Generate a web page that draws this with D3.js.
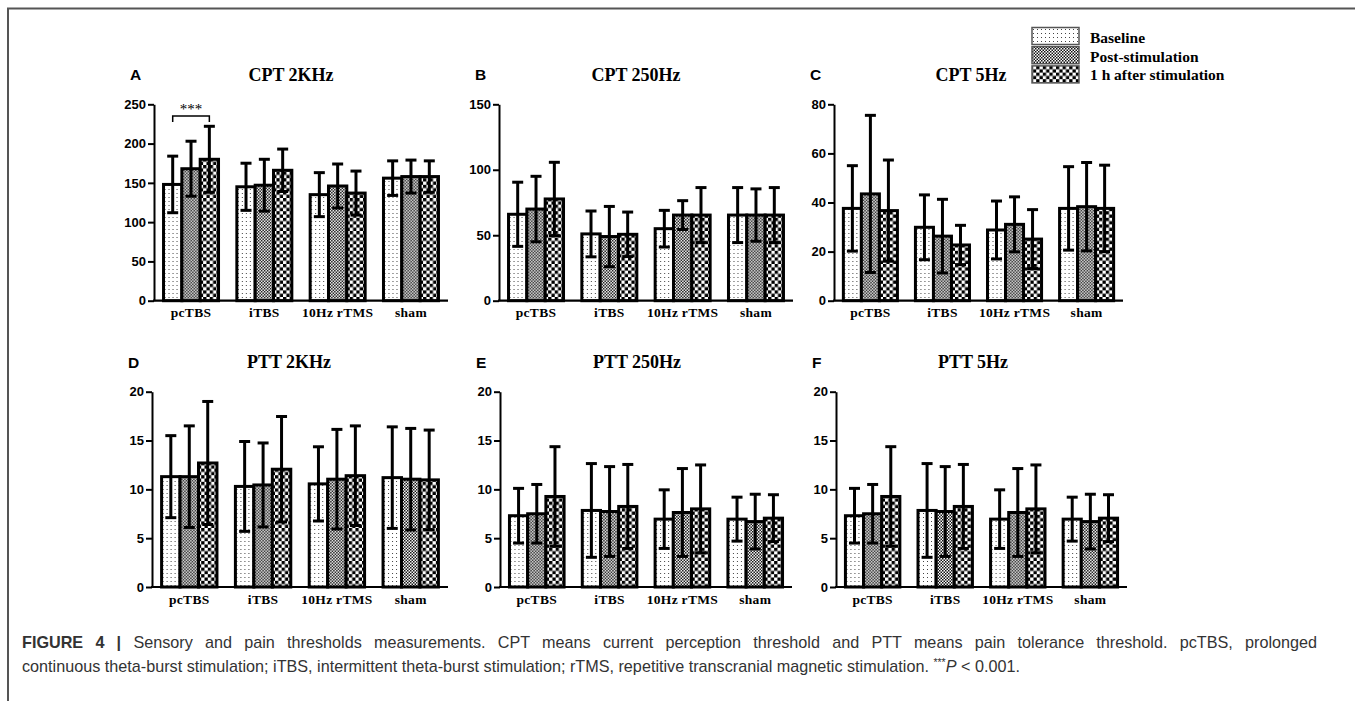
<!DOCTYPE html>
<html>
<head>
<meta charset="utf-8">
<title>Figure 4 - sensory and pain thresholds</title>
<script src="https://cdn.jsdelivr.net/npm/d3@7"></script>
<style>
    html, body { margin: 0; padding: 0; background: #fff; }
    svg { display: block; }
    .tick text { font-family: "Liberation Sans", Arial, sans-serif; font-weight: bold; font-size: 13px; fill: #000; }
    .xlab text { font-family: "Liberation Serif", "Times New Roman", serif; font-weight: bold; font-size: 13.5px; letter-spacing: 0.3px; }
</style>
</head>
<body>
<div id="chart"></div>
<script>
// ---- data ----
var groups = ["pcTBS", "iTBS", "10Hz rTMS", "sham"];
var series = ["Baseline", "Post-stimulation", "1 h after stimulation"];

// one row per group: [Baseline, Post, 1 h]
var cpt2kMean = [[148, 168, 180], [145, 147, 166], [135, 146, 137], [156, 158, 158]];
var cpt2kSD   = [[36, 35, 42], [30, 33, 27], [28, 28, 28], [22, 21, 20]];

var cpt250Mean = [[66, 70, 77.7], [51, 49, 50.7], [55, 65.4, 65.4], [65.4, 65.4, 65.4]];
var cpt250SD   = [[24.5, 25, 28], [17.5, 23, 17], [14, 11, 21], [21, 20, 21]];

var cpt5Mean = [[37.6, 43.5, 36.7], [29.9, 26.3, 22.7], [28.8, 31.1, 25.1], [37.6, 38.3, 37.6]];
var cpt5SD   = [[17.4, 32, 20.6], [13.2, 15, 8], [11.8, 11.2, 12], [17, 18, 17.6]];

var ptt2kMean = [[11.3, 11.3, 12.7], [10.3, 10.45, 12.06], [10.56, 11.04, 11.4], [11.2, 11.04, 10.97]];
var ptt2kSD   = [[4.2, 5.2, 6.3], [4.6, 4.3, 5.4], [3.8, 5.1, 5.1], [5.2, 5.2, 5.1]];

var ptt250Mean = [[7.3, 7.5, 9.27], [7.84, 7.73, 8.25], [6.95, 7.63, 8.0], [6.95, 6.7, 7.05]];
var ptt250SD   = [[2.8, 3.0, 5.1], [4.8, 4.6, 4.3], [3.0, 4.5, 4.5], [2.25, 2.8, 2.4]];

var ptt5Mean = [[7.3, 7.5, 9.27], [7.84, 7.73, 8.25], [6.95, 7.63, 8.0], [6.95, 6.7, 7.05]];
var ptt5SD   = [[2.8, 3.0, 5.1], [4.8, 4.6, 4.3], [3.0, 4.5, 4.5], [2.25, 2.8, 2.4]];

var ticksA = [0, 50, 100, 150, 200, 250];
var ticksB = [0, 50, 100, 150];
var ticksC = [0, 20, 40, 60, 80];
var ticksPTT = [0, 5, 10, 15, 20];

var sigLabel = "***";
var sigLevel = 235;

// ----------
var width = 1355, height = 701;

var svg = d3.select("#chart").append("svg")
    .attr("width", width)
    .attr("height", height);

// fill patterns for the three time points
var defs = svg.append("defs");

var pDot = defs.append("pattern").attr("id", "pat0")
    .attr("patternUnits", "userSpaceOnUse").attr("width", 4).attr("height", 4);
pDot.append("rect").attr("width", 4).attr("height", 4).attr("fill", "#fff");
pDot.append("rect").attr("x", 1).attr("y", 1).attr("width", 1).attr("height", 1).attr("fill", "#444");

var pFine = defs.append("pattern").attr("id", "pat1")
    .attr("patternUnits", "userSpaceOnUse").attr("width", 3).attr("height", 3);
pFine.append("rect").attr("width", 3).attr("height", 3).attr("fill", "#fff");
pFine.append("rect").attr("width", 1.5).attr("height", 1.5).attr("fill", "#111");
pFine.append("rect").attr("x", 1.5).attr("y", 1.5).attr("width", 1.5).attr("height", 1.5).attr("fill", "#111");

var pChk = defs.append("pattern").attr("id", "pat2")
    .attr("patternUnits", "userSpaceOnUse").attr("width", 6.6).attr("height", 6.6);
pChk.append("rect").attr("width", 6.6).attr("height", 6.6).attr("fill", "#fff");
pChk.append("rect").attr("width", 3.3).attr("height", 3.3).attr("fill", "#000");
pChk.append("rect").attr("x", 3.3).attr("y", 3.3).attr("width", 3.3).attr("height", 3.3).attr("fill", "#000");

var fills = ["url(#pat0)", "url(#pat1)", "url(#pat2)"];

// frame of the figure
svg.append("path")
    .attr("d", "M8,701 L8,8.5 L1355,8.5")
    .attr("fill", "none")
    .attr("stroke", "#555")
    .attr("stroke-width", 2);

var panels = [
    { id: "A", title: "CPT 2KHz",  mean: cpt2kMean,  sd: cpt2kSD,  max: 250, ticks: ticksA,   x0: 154, w: 294, top: 104.3, base: 300.7 },
    { id: "B", title: "CPT 250Hz", mean: cpt250Mean, sd: cpt250SD, max: 150, ticks: ticksB,   x0: 499, w: 294, top: 104.3, base: 300.7 },
    { id: "C", title: "CPT 5Hz",   mean: cpt5Mean,   sd: cpt5SD,   max: 80,  ticks: ticksC,   x0: 834, w: 289, top: 104.3, base: 300.7 },
    { id: "D", title: "PTT 2KHz",  mean: ptt2kMean,  sd: ptt2kSD,  max: 20,  ticks: ticksPTT, x0: 152, w: 296, top: 391.7, base: 587 },
    { id: "E", title: "PTT 250Hz", mean: ptt250Mean, sd: ptt250SD, max: 20,  ticks: ticksPTT, x0: 500, w: 292, top: 391.7, base: 587 },
    { id: "F", title: "PTT 5Hz",   mean: ptt5Mean,   sd: ptt5SD,   max: 20,  ticks: ticksPTT, x0: 836, w: 291, top: 391.7, base: 587 }
];

panels.forEach(function(p) {
    var g = svg.append("g");

    var x = d3.scaleBand().domain(groups)
        .range([p.x0, p.x0 + p.w])
        .paddingInner(0.25).paddingOuter(0.13);
    var x1 = d3.scaleBand().domain(d3.range(series.length))
        .range([0, x.bandwidth()]);
    var y = d3.scaleLinear().domain([0, p.max]).range([p.base, p.top]);

    // panel letter + title
    g.append("text")
        .attr("x", p.x0 - 24).attr("y", p.top - 24)
        .attr("font-family", "Liberation Sans, Arial, sans-serif")
        .attr("font-weight", "bold").attr("font-size", 15.5)
        .text(p.id);
    g.append("text")
        .attr("x", p.x0 + 137).attr("y", p.top - 23.5)
        .attr("text-anchor", "middle")
        .attr("font-family", "Liberation Serif, Times New Roman, serif")
        .attr("font-weight", "bold").attr("font-size", 18)
        .text(p.title);

    // bars
    var grp = g.selectAll("g.grp").data(groups).enter().append("g")
        .attr("class", "grp")
        .attr("transform", function(d) { return "translate(" + x(d) + ",0)"; });

    grp.each(function(gname, gi) {
        var cell = d3.select(this);
        var rows = series.map(function(s, si) {
            return { si: si, m: p.mean[gi][si], sd: p.sd[gi][si] };
        });

        cell.selectAll("rect").data(rows).enter().append("rect")
            .attr("x", function(d) { return x1(d.si); })
            .attr("y", function(d) { return y(d.m); })
            .attr("width", x1.bandwidth())
            .attr("height", function(d) { return p.base - y(d.m); })
            .attr("fill", function(d) { return fills[d.si]; })
            .attr("stroke", "#000")
            .attr("stroke-width", 3);

        var eb = cell.selectAll("g.eb").data(rows).enter().append("g")
            .attr("class", "eb")
            .attr("stroke", "#000").attr("stroke-width", 3);
        eb.append("line")
            .attr("x1", function(d) { return x1(d.si) + x1.bandwidth() / 2; })
            .attr("x2", function(d) { return x1(d.si) + x1.bandwidth() / 2; })
            .attr("y1", function(d) { return y(d.m - d.sd); })
            .attr("y2", function(d) { return y(d.m + d.sd); });
        eb.append("line")
            .attr("x1", function(d) { return x1(d.si) + x1.bandwidth() / 2 - 5.5; })
            .attr("x2", function(d) { return x1(d.si) + x1.bandwidth() / 2 + 5.5; })
            .attr("y1", function(d) { return y(d.m + d.sd); })
            .attr("y2", function(d) { return y(d.m + d.sd); });
        eb.append("line")
            .attr("x1", function(d) { return x1(d.si) + x1.bandwidth() / 2 - 5.5; })
            .attr("x2", function(d) { return x1(d.si) + x1.bandwidth() / 2 + 5.5; })
            .attr("y1", function(d) { return y(d.m - d.sd); })
            .attr("y2", function(d) { return y(d.m - d.sd); });
    });

    // axes
    var ya = g.append("g")
        .attr("transform", "translate(" + p.x0 + ",0)")
        .call(d3.axisLeft(y).tickValues(p.ticks).tickSize(6).tickSizeOuter(0).tickPadding(2));
    ya.select(".domain").attr("stroke-width", 2);
    ya.selectAll(".tick line").attr("stroke-width", 2);

    var xa = g.append("g")
        .attr("class", "xlab")
        .attr("transform", "translate(0," + p.base + ")")
        .call(d3.axisBottom(x).tickSize(0).tickPadding(7));
    xa.select(".domain").attr("stroke-width", 2.2)
        .attr("d", "M" + (p.x0 - 1) + ",0H" + (p.x0 + p.w));

    // significance bracket (panel A, pcTBS baseline vs 1 h)
    if (p.id === "A") {
        var gx = x("pcTBS");
        var xa0 = gx + x1(0) + x1.bandwidth() / 2;
        var xa2 = gx + x1(2) + x1.bandwidth() / 2;
        var ys = y(sigLevel);
        g.append("path")
            .attr("d", "M" + xa0 + "," + (ys + 6) + "V" + ys + "H" + xa2 + "V" + (ys + 6))
            .attr("fill", "none").attr("stroke", "#000").attr("stroke-width", 1.5);
        g.append("text")
            .attr("x", (xa0 + xa2) / 2).attr("y", ys - 2)
            .attr("text-anchor", "middle")
            .attr("font-family", "Liberation Serif, Times New Roman, serif")
            .attr("font-size", 15)
            .text(sigLabel);
    }
});

// legend
var leg = svg.append("g");
series.forEach(function(s, i) {
    leg.append("rect")
        .attr("x", 1032).attr("y", 27.5 + i * 19.2)
        .attr("width", 47).attr("height", 17)
        .attr("fill", fills[i])
        .attr("stroke", "#555").attr("stroke-width", 1.5);
    leg.append("text")
        .attr("x", 1090).attr("y", 43 + i * 18.5)
        .attr("font-family", "Liberation Serif, Times New Roman, serif")
        .attr("font-weight", "bold").attr("font-size", 15.5)
        .text(s);
});

// caption (first line is justified to the full width)
var cap = svg.append("g")
    .attr("font-family", "Liberation Sans, Arial, sans-serif")
    .attr("font-size", 16.2)
    .attr("fill", "#333");

var l1 = cap.append("text").attr("x", 22).attr("y", 648);
l1.append("tspan").attr("font-weight", "bold").text("FIGURE 4 | ");
l1.append("tspan").text("Sensory and pain thresholds measurements. CPT means current perception threshold and PTT means pain tolerance threshold. pcTBS, prolonged");

var natural = l1.node().getComputedTextLength();
var spaces = l1.text().split(" ").length - 1;
var target = 1317 - 22;
if (natural < target) l1.attr("word-spacing", (target - natural) / spaces);

var l2 = cap.append("text").attr("x", 22).attr("y", 672);
l2.append("tspan").text("continuous theta-burst stimulation; iTBS, intermittent theta-burst stimulation; rTMS, repetitive transcranial magnetic stimulation. ");
l2.append("tspan").attr("font-size", 10.5).attr("dy", -6).text("***");
l2.append("tspan").attr("font-style", "italic").attr("dy", 6).text("P");
l2.append("tspan").text(" < 0.001.");
</script>
</body>
</html>
